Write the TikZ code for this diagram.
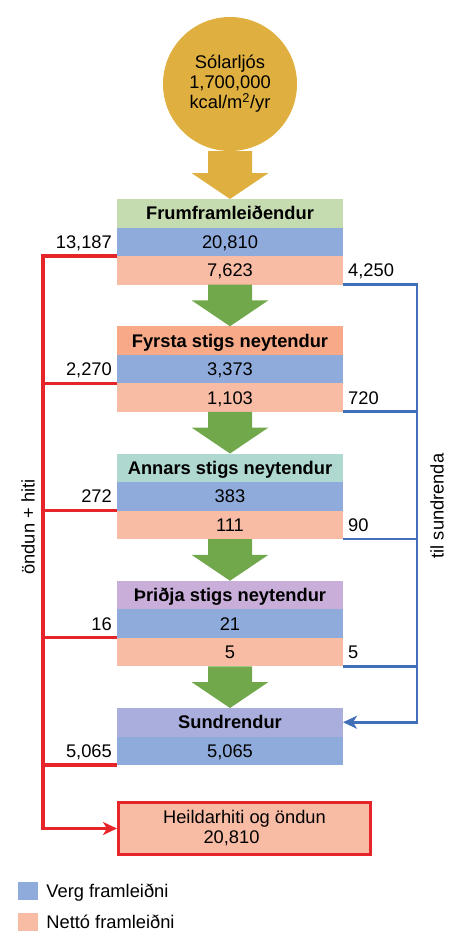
\documentclass[tikz,border=0pt]{standalone}
\usepackage{fontspec}
\setmainfont{Liberation Sans}
\usetikzlibrary{arrows.meta,positioning,calc}

\definecolor{sungold}{HTML}{DFAF3F}
\definecolor{flowgreen}{HTML}{71A84C}
\definecolor{prodgreen}{HTML}{C5DBB0}
\definecolor{primorange}{HTML}{F7A988}
\definecolor{secteal}{HTML}{AED8D0}
\definecolor{terlilac}{HTML}{C9AEDA}
\definecolor{decviolet}{HTML}{AAAEDD}
\definecolor{grossblue}{HTML}{8FABDB}
\definecolor{netsalmon}{HTML}{F8BCA4}
\definecolor{respred}{HTML}{E5252A}
\definecolor{decblue}{HTML}{4270B8}

% broad flow arrow from one node down to the next
\newcommand{\flowarrow}[3]{%
  \fill[#1] ($(#2.south)+(-22,0)$) -- ($(#2.south)+(22,0)$)
    -- ($(#3.north)+(22,26)$) -- ($(#3.north)+(38.5,26)$) -- (#3.north)
    -- ($(#3.north)+(-38.5,26)$) -- ($(#3.north)+(-22,26)$) -- cycle;}

\begin{document}
\begin{tikzpicture}[
  x=1pt, y=1pt,
  font=\fontsize{18.3}{20}\selectfont,
  band/.style={minimum width=226pt, minimum height=28.5pt, inner sep=0pt, outer sep=0pt, text height=13.1pt, text depth=0pt},
  title/.style={band, font=\fontsize{18.3}{20}\selectfont\bfseries},
  gross/.style={band, fill=grossblue},
  net/.style={band, fill=netsalmon},
  lab/.style={inner sep=0pt, text height=13.1pt, text depth=0pt},
  legkey/.style={minimum width=20pt, minimum height=18pt, inner sep=0pt},
  resp/.style={draw=respred, line width=3.2pt},
  decp/.style={draw=decblue, line width=2.8pt},
  >={Stealth[length=14pt,width=13pt,inset=4pt]}
]
\useasboundingbox (0,0) rectangle (469,-951);

\node[circle, fill=sungold, minimum size=134pt, inner sep=0pt, align=center] (sun) at (230,-84)
  {Sólarljós\\1,700,000\\kcal/m\textsuperscript{2}/yr};

% trophic levels
\node[title, fill=prodgreen] (prod) at (230,-213.25) {Frumframleiðendur};
\node[gross, below=0pt of prod] (prodgross) {20,810};
\node[net, below=0pt of prodgross] (prodnet) {7,623};

\node[title, fill=primorange, below=41.75pt of prodnet] (prim) {Fyrsta stigs neytendur};
\node[gross, below=0pt of prim] (primgross) {3,373};
\node[net, below=0pt of primgross] (primnet) {1,103};

\node[title, fill=secteal, below=41.75pt of primnet] (sec) {Annars stigs neytendur};
\node[gross, below=0pt of sec] (secgross) {383};
\node[net, below=0pt of secgross] (secnet) {111};

\node[title, fill=terlilac, below=41.75pt of secnet] (ter) {Þriðja stigs neytendur};
\node[gross, below=0pt of ter] (tergross) {21};
\node[net, below=0pt of tergross] (ternet) {5};

\node[title, fill=decviolet, below=41.75pt of ternet] (decomp) {Sundrendur};
\node[gross, below=0pt of decomp] (decompgross) {5,065};

\node[draw=respred, line width=3pt, fill=netsalmon, minimum width=252pt, minimum height=52pt, align=center] (heat) at (244.5,-828.5)
  {Heildarhiti og öndun\\\makebox[82pt][l]{20,810}};

% flow arrows
\flowarrow{sungold}{sun}{prod}
\flowarrow{flowgreen}{prodnet}{prim}
\flowarrow{flowgreen}{primnet}{sec}
\flowarrow{flowgreen}{secnet}{ter}
\flowarrow{flowgreen}{ternet}{decomp}

% respiration and heat
\node[lab, left=5pt of prodgross] {13,187};
\node[lab, left=5pt of primgross] {2,270};
\node[lab, left=5pt of secgross] {272};
\node[lab, left=5pt of tergross] {16};
\node[lab, left=5pt of decompgross] {5,065};
\coordinate (resx) at (43,0);
\draw[resp,->] (prodgross.south west) -| (heat.west -| resx) -- (heat.west);
\foreach \lvl in {primgross,secgross,tergross,decompgross}
  \draw[resp] (\lvl.south west) -- (\lvl.south west -| resx);
\node[rotate=90] at (28,-527) {öndun + hiti};

% to decomposers
\node[lab, right=5pt of prodnet] {4,250};
\node[lab, right=5pt of primnet] {720};
\node[lab, right=5pt of secnet] {90};
\node[lab, right=5pt of ternet] {5};
\coordinate (decx) at (417,0);
\draw[decp,->] (prodnet.south east) -| (decomp.east -| decx) -- (decomp.east);
\foreach \lvl in {primnet,secnet,ternet}
  \draw[decp] (\lvl.south east) -- (\lvl.south east -| decx);
\node[rotate=90] at (437,-506) {til sundrenda};

% legend
\node[legkey, fill=grossblue] (keygross) at (28,-891) {};
\node[lab, right=8pt of keygross] {Verg framleiðni};
\node[legkey, fill=netsalmon] (keynet) at (28,-921.5) {};
\node[lab, right=8pt of keynet] {Nettó framleiðni};
\end{tikzpicture}
\end{document}
